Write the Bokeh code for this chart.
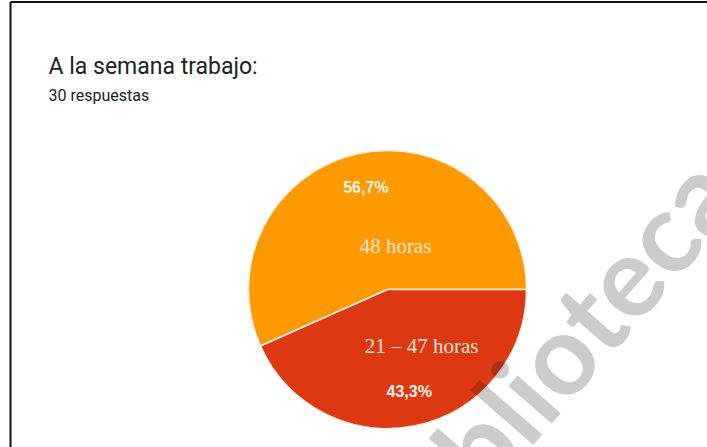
import math
from bokeh.plotting import figure
from bokeh.models import Range1d
from bokeh.core.properties import value
from bokeh.embed import file_html
from bokeh.resources import INLINE

# ---- data ----
title_text = "A la semana trabajo:"
subtitle_text = "30 respuestas"
categories = ["48 horas", "21 – 47 horas"]
counts = [17, 13]
colors = ["#ff9900", "#dc3912"]
watermark = "biblioteca"

# ---- derived ----
total = sum(counts)
fracs = [c / total for c in counts]
pct_labels = [f"{f*100:.1f}".replace(".", ",") + "%" for f in fracs]
starts, ends = [], []
acc = 0.0
for f in fracs:
    starts.append(acc * 2 * math.pi)
    acc += f
    ends.append(acc * 2 * math.pi)
mids = [(s + e) / 2 for s, e in zip(starts, ends)]

W, H = 707, 447
p = figure(width=W, height=H, output_backend="svg", toolbar_location=None,
           x_range=Range1d(0, W), y_range=Range1d(0, H), min_border=0)
p.axis.visible = False
p.grid.visible = False
p.outline_line_color = None
p.background_fill_color = "white"
p.border_fill_color = "white"

def Y(page_y):
    return H - page_y

cx, cy, r = 387, Y(289), 139

p.wedge(x=[cx] * len(counts), y=[cy] * len(counts), radius=r,
        start_angle=starts, end_angle=ends, fill_color=colors,
        line_color="#fbefe6", line_width=1.5)

# percentage labels
px = [cx + 0.75 * r * math.cos(m) for m in mids]
py = [cy + 0.75 * r * math.sin(m) for m in mids]
p.text(x=px, y=py, text=pct_labels, text_align="center", text_baseline="middle",
       text_color="#fdf3ea", text_font=value("Liberation Sans"), text_font_style="bold",
       text_font_size="16px")

# category labels (overlaid in serif)
nx = [cx + 0.45 * r * math.cos(m) for m in mids]
ny = [cy + 0.45 * r * math.sin(m) for m in mids]
p.text(x=nx, y=ny, text=categories, text_align="center", text_baseline="middle",
       x_offset=[21, 21], y_offset=[18, -5],
       text_color="#f6e4d6", text_font=value("Liberation Serif"), text_font_size="21px")

# title + subtitle
p.text(x=[48], y=[Y(66)], text=[title_text], text_align="left", text_baseline="alphabetic",
       text_color="#202124", text_font=value("Roboto"), text_font_size="23px")
p.text(x=[48], y=[Y(95)], text=[subtitle_text], text_align="left", text_baseline="alphabetic",
       text_color="#202124", text_font=value("Roboto"), text_font_size="16px")

# frame lines (left and top)
p.segment(x0=[10, 10], y0=[0, Y(1.5)], x1=[10, W], y1=[Y(1.5), Y(1.5)],
          line_color="#111111", line_width=2)

# watermark (rotated, translucent so it darkens the pie beneath)
p.text(x=[553], y=[Y(355)], text=[watermark], angle=[math.radians(49)],
       text_align="center", text_baseline="alphabetic",
       text_color="black", text_alpha=0.2, text_font=value("Lato"),
       text_font_style="bold", text_font_size="112px")

open("out.html", "w").write(file_html(p, INLINE))
